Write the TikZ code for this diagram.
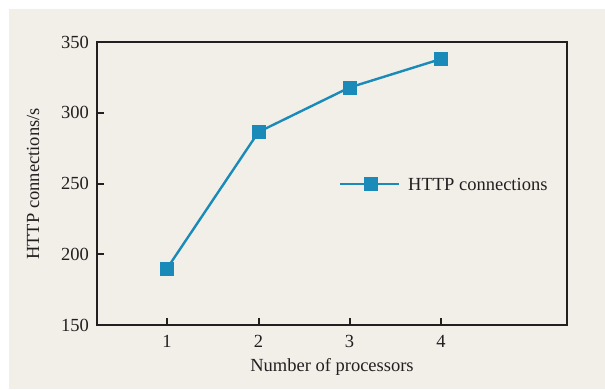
\documentclass[tikz,border=0pt]{standalone}
\usepackage{fontspec}
\setmainfont{Liberation Serif}
\definecolor{paper}{HTML}{F2EFE9}
\definecolor{frame}{HTML}{231F20}
\definecolor{series}{HTML}{1A8AB8}
\begin{document}
\begin{tikzpicture}[x=1pt,y=-1pt,
  axisline/.style={draw=frame,line width=2.6pt},
  tickline/.style={draw=frame,line width=2pt},
  ticklabel/.style={font=\fontsize{18.5}{20}\selectfont,text=frame,inner sep=0pt},
  seriesline/.style={draw=series,line width=2.4pt},
  marker/.style={fill=series,draw=none,minimum size=14pt,inner sep=0pt,rectangle}]
\useasboundingbox (0,0) rectangle (605,389);
\fill[white] (0,0) rectangle (605,389);
\fill[paper] (9,9) rectangle (605,389);

% plot frame
\draw[axisline] (97,42) rectangle (567,325);

% y ticks and labels
\foreach \v/\y in {350/42,300/112.75,250/183.5,200/254.25,150/325}{
  \node[ticklabel,anchor=east] (yl\v) at (89,\y) {\v};
}
\foreach \y in {112.75,183.5,254.25}{
  \draw[tickline] (97,\y) -- (104,\y);
}

% x ticks and labels
\foreach \i/\x in {1/167,2/258.5,3/349.5,4/441}{
  \draw[tickline] (\x,325) -- (\x,318);
  \node[ticklabel,anchor=base] (xl\i) at (\x,347) {\i};
}

% axis titles
\node[ticklabel,anchor=base] (xtitle) at (332,371.5) {Number of processors};
\node[ticklabel,rotate=90] (ytitle) at (33,184) {HTTP connections/s};

% data series
\coordinate (p1) at (167,268.5);
\coordinate (p2) at (258.5,132);
\coordinate (p3) at (349.5,87.5);
\coordinate (p4) at (441,59);
\draw[seriesline] (p1) -- (p2) -- (p3) -- (p4);
\foreach \p in {p1,p2,p3,p4}{
  \node[marker] at (\p) {};
}

% legend
\coordinate (la) at (340,184);
\coordinate (lb) at (399,184);
\draw[seriesline] (la) -- (lb);
\node[marker] (lm) at (371,184) {};
\node[ticklabel,anchor=west] (ltext) at (408,184) {HTTP connections};
\end{tikzpicture}
\end{document}
